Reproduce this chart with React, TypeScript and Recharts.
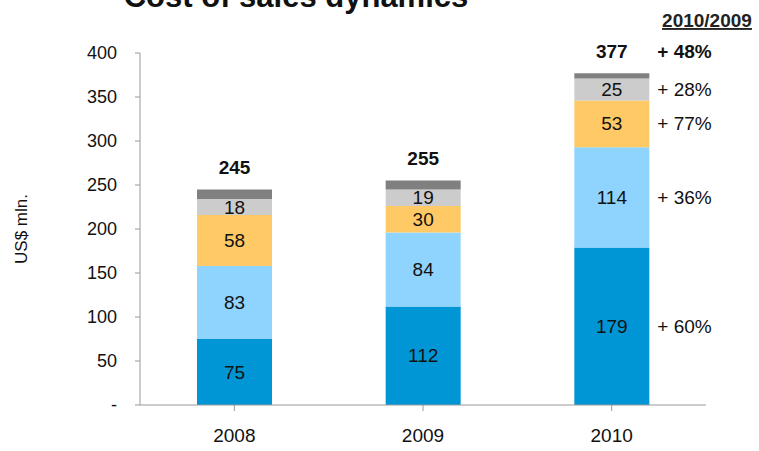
import React from 'react';
import { BarChart, Bar, XAxis, YAxis, LabelList, Label } from 'recharts';

const years = ['2008', '2009', '2010'];
const production = [75, 112, 179];
const materials = [83, 84, 114];
const energy = [58, 30, 53];
const salaries = [18, 19, 25];
const other = [11, 10, 6];
const totals = [245, 255, 377];
const growth = ['+ 60%', '+ 36%', '+ 77%', '+ 28%', '+ 48%'];
const yTicks = [0, 50, 100, 150, 200, 250, 300, 350, 400];

const data = years.map((y, i) => ({
  year: y,
  production: production[i],
  materials: materials[i],
  energy: energy[i],
  salaries: salaries[i],
  other: other[i],
  total: totals[i],
}));

const FONT = '"Liberation Sans", Arial, sans-serif';

const segLabel = (growthIdx: number) => (props: any) => {
  const { x, y, width, height, value, index } = props;
  return (
    <g>
      <text x={x + width / 2} y={y + height / 2} textAnchor="middle" dominantBaseline="central"
        fontSize={19} fill="#111">{value}</text>
      {index === 2 && (
        <text x={x + width + 8} y={y + height / 2} textAnchor="start" dominantBaseline="central"
          fontSize={19} fill="#111">{growth[growthIdx]}</text>
      )}
    </g>
  );
};

const totalLabel = (props: any) => {
  const { x, y, width, index } = props;
  return (
    <g>
      <text x={x + width / 2} y={y - 22} textAnchor="middle" dominantBaseline="central"
        fontSize={19} fontWeight="bold" fill="#111">{totals[index]}</text>
      {index === 2 && (
        <text x={x + width + 8} y={y - 22} textAnchor="start" dominantBaseline="central"
          fontSize={19} fontWeight="bold" fill="#111">{growth[4]}</text>
      )}
    </g>
  );
};

export default function App() {
  return (
    <div style={{ position: 'absolute', left: 0, top: 0, width: 759, height: 451, fontFamily: FONT, background: '#fff' }}>
      <svg width={759} height={451} style={{ position: 'absolute', left: 0, top: 0 }}>
        <text x={296} y={7} textAnchor="middle" fontSize={31} fontWeight="bold" fill="#111" fontFamily={FONT}>
          Cost of sales dynamics
        </text>
        <text x={707} y={27} textAnchor="middle" fontSize={19} fontWeight="bold" fill="#222"
          fontFamily={FONT} style={{ textDecoration: 'underline' }}>
          2010/2009
        </text>
      </svg>
      <div style={{ position: 'absolute', left: 0, top: 0 }}>
        <BarChart width={759} height={451} data={data} barSize={75}
          margin={{ top: 53, right: 53, bottom: 16, left: 80 }}>
          <XAxis dataKey="year" stroke="#999" tickLine={{ stroke: '#999' }} tickSize={6}
            tick={{ fill: '#111', fontSize: 19, fontFamily: FONT }} height={30} dy={16} />
          <YAxis domain={[0, 400]} ticks={yTicks} stroke="#999" width={60} tickSize={5}
            tick={{ fill: '#111', fontSize: 18, fontFamily: FONT }} dx={-16}
            tickFormatter={(v: number) => (v === 0 ? '-' : String(v))} interval={0}>
            <Label value="US$ mln." angle={-90} position="insideLeft" dx={-64} fontSize={17}
              fill="#111" fontFamily={FONT} style={{ textAnchor: 'middle' }} />
          </YAxis>
          <Bar dataKey="production" stackId="a" fill="#0096D6" isAnimationActive={false}>
            <LabelList dataKey="production" content={segLabel(0)} />
          </Bar>
          <Bar dataKey="materials" stackId="a" fill="#8FD3FF" isAnimationActive={false}>
            <LabelList dataKey="materials" content={segLabel(1)} />
          </Bar>
          <Bar dataKey="energy" stackId="a" fill="#FFC966" isAnimationActive={false}>
            <LabelList dataKey="energy" content={segLabel(2)} />
          </Bar>
          <Bar dataKey="salaries" stackId="a" fill="#CCCCCC" isAnimationActive={false}>
            <LabelList dataKey="salaries" content={segLabel(3)} />
          </Bar>
          <Bar dataKey="other" stackId="a" fill="#808080" isAnimationActive={false}>
            <LabelList dataKey="other" content={totalLabel} />
          </Bar>
        </BarChart>
      </div>
    </div>
  );
}
